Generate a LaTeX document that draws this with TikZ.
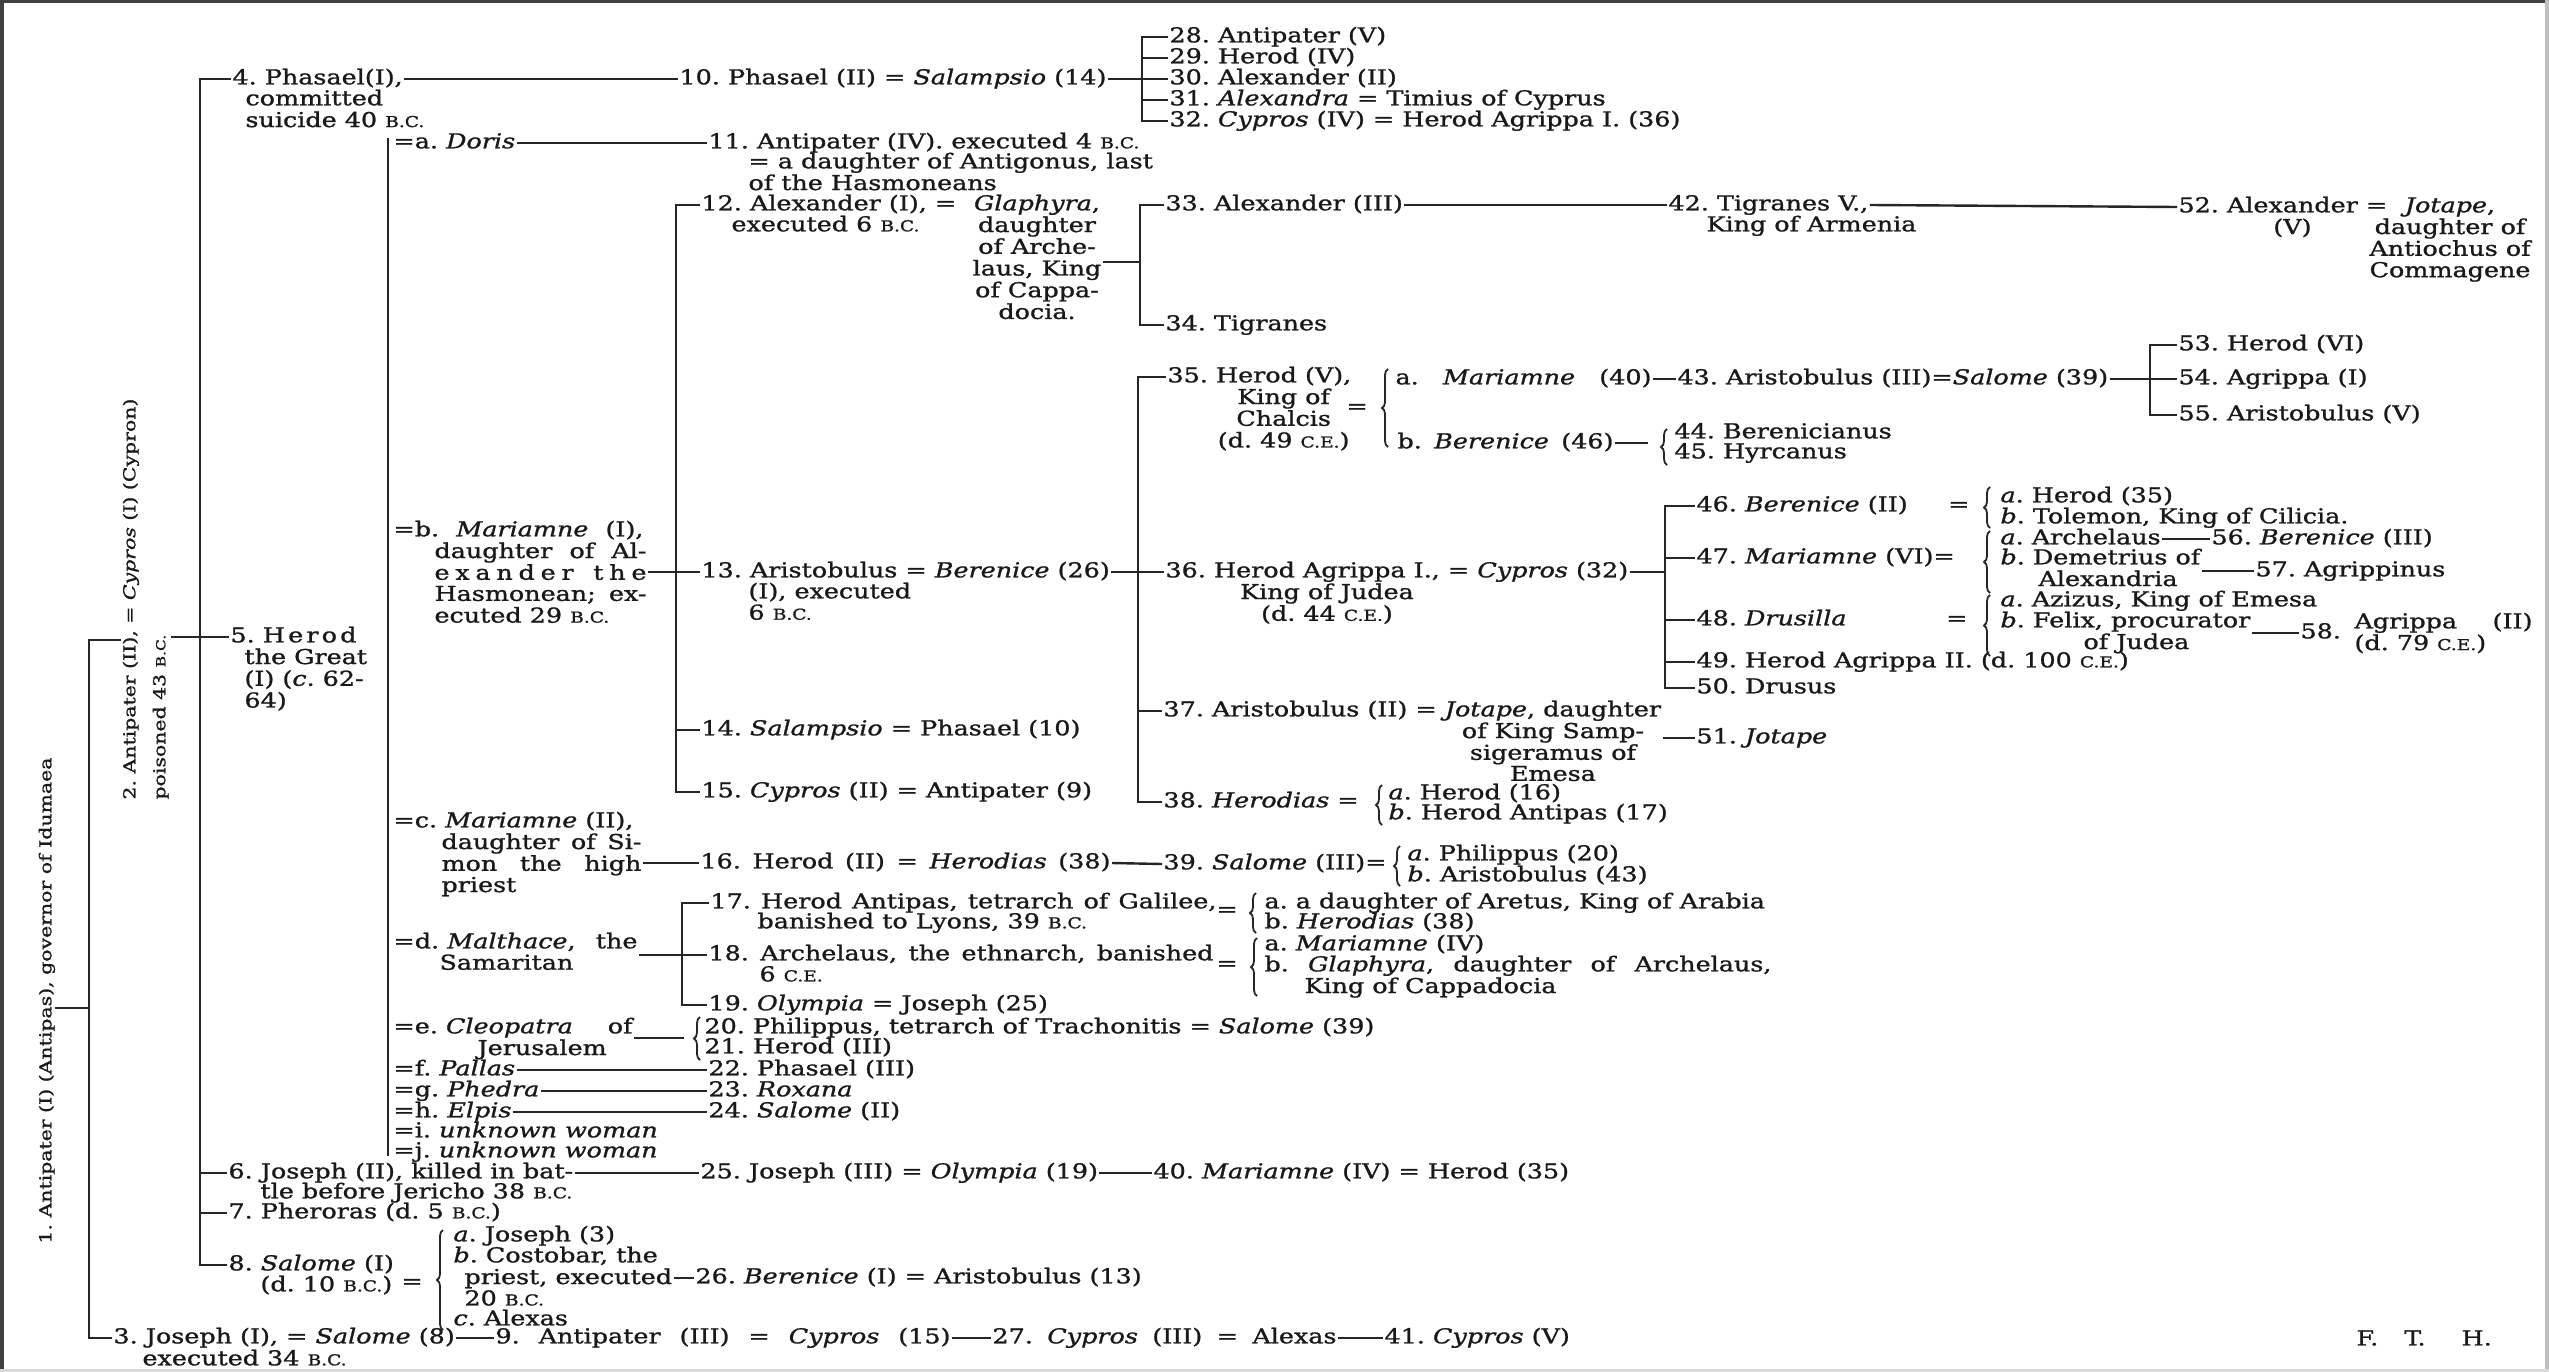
\documentclass[tikz,border=0pt]{standalone}
\usepackage{fontspec}
\setmainfont{DejaVu Serif}[FakeStretch=1.24,FakeBold=1.2]
\usetikzlibrary{decorations.pathreplacing}
\newcommand\Lb[1]{\begin{tabular}[t]{@{}l@{}}#1\end{tabular}}
\newcommand\Cb[1]{\begin{tabular}[t]{@{}c@{}}#1\end{tabular}}
\newcommand\BCx{{\fontsize{15}{20}\selectfont B.C.}}
\newcommand\CEx{{\fontsize{15}{20}\selectfont C.E.}}
\newcommand\Sx[2]{\makebox[#1pt][s]{#2}}
\begin{document}
\frenchspacing
\fontsize{20.5}{20.5}\selectfont
\begin{tikzpicture}[x=1pt,y=-1pt,
  every node/.style={inner xsep=1.5pt,inner ysep=0pt,outer sep=0pt,
    font=\fontsize{20.5}{20.5}\selectfont,text=black!90},
  t/.style={anchor=mid west},
  tc/.style={anchor=mid},
  rot/.style={rotate=90,anchor=mid west,font=\fontsize{16.5}{20}\selectfont},
  ln/.style={line width=2.4pt,black!85},
  brc/.style={line width=1.8pt,black!85,decorate,decoration={brace,amplitude=6pt}}]
\useasboundingbox (0,0) rectangle (2549,1372);
\fill[white] (0,0) rectangle (2549,1372);
\fill[black!75] (0,0) rectangle (2549,3);
\fill[black!75] (0,0) rectangle (4,1372);
\fill[black!25] (2545,0) rectangle (2549,1372);
\fill[black!15] (0,1369) rectangle (2549,1372);

% bracket coordinates
\coordinate (Atop) at (89,640);
\coordinate (Amid) at (89,1008);
\coordinate (Bbot) at (200,1265);
\coordinate (Ctop) at (388,138);
\coordinate (Cbot) at (388,1156);
\coordinate (Dbot) at (676,792);
\coordinate (Pbot) at (1142,121);
\coordinate (Em) at (1140,262);
\coordinate (E2m) at (1138,572);
\coordinate (Fm) at (2150,379);
\coordinate (Gm) at (1665,572);
\coordinate (Hm) at (682,955);
\coordinate (k44) at (1648,443);
\coordinate (k20) at (684,1038);

% rotated ancestors
\node[rot] (a1) at (46,1245) {1. Antipater (I) (Antipas), governor of Idumaea};
\node[rot] (a2) at (130,801) {\Lb{2. Antipater (II), = \textit{Cypros} (I) (Cypron)\\[10pt]poisoned 43 {\fontsize{12.5}{20}\selectfont B.C.}}};

% top rows
\node[t] (n4) at (231,79) {4. Phasael(I),};
\node[t] (n4x) at (244,100) {\Lb{committed\\suicide 40 \BCx}};
\node[t] (n10) at (678,79) {10. Phasael (II) = \textit{Salampsio} (14)};
\node[t] (n28) at (1168,37) {28. Antipater (V)};
\node[t] (n29) at (1168,58) {29. Herod (IV)};
\node[t] (n30) at (1168,79) {30. Alexander (II)};
\node[t] (n31) at (1168,100) {31. \textit{Alexandra} = Timius of Cyprus};
\node[t] (n32) at (1168,121) {32. \textit{Cypros} (IV) = Herod Agrippa I. (36)};

\node[t] (wa) at (392,143) {=a. \textit{Doris}};
\node[t] (n11) at (707,143) {11. Antipater (IV). executed 4 \BCx};
\node[t] (n11x) at (747,163) {\Lb{= a daughter of Antigonus, last\\of the Hasmoneans}};

\node[t] (n12) at (700,205) {12. Alexander (I), =};
\node[t] (n12x) at (730,226) {executed 6 \BCx};
\node[tc] (g12) at (1037,205) {\Cb{\textit{Glaphyra},\\daughter\\of Arche-\\laus, King\\of Cappa-\\docia.}};
\node[t] (n33) at (1164,205) {33. Alexander (III)};
\node[t] (n34) at (1164,325) {34. Tigranes};
\node[t] (n42) at (1667,205) {42. Tigranes V.,};
\node[t] (n42x) at (1705,226) {King of Armenia};
\node[t] (n52) at (2177,207) {52. \Cb{Alexander\\(V)} =};
\node[tc] (j52) at (2450,207) {\Cb{\textit{Jotape},\\daughter of\\Antiochus of\\Commagene}};

\node[t] (n35) at (1166,377) {35. \Cb{Herod (V),\\King of\\Chalcis\\(d. 49 \CEx)}};
\node[t] (e35) at (1345,408) {=};
\node[t] (n35a) at (1394,379) {\Sx{256}{a. \textit{Mariamne} (40)}};
\node[t] (n43) at (1676,379) {43. Aristobulus (III)=\textit{Salome} (39)};
\node[t] (n53) at (2177,345) {53. Herod (VI)};
\node[t] (n54) at (2177,379) {54. Agrippa (I)};
\node[t] (n55) at (2177,415) {55. Aristobulus (V)};
\node[t] (n35b) at (1396,443) {\Sx{216}{b. \textit{Berenice} (46)}};
\node[t] (n44) at (1673,433) {44. Berenicianus};
\node[t] (n45) at (1673,453) {45. Hyrcanus};

\node[t] (n13) at (700,572) {13. Aristobulus = \textit{Berenice} (26)};
\node[t] (n13x) at (747,593) {\Lb{(I), executed\\6 \BCx}};
\node[t] (n36) at (1164,572) {36. \Cb{Herod Agrippa I.,\\King of Judea\\(d. 44 \CEx)} = \textit{Cypros} (32)};
\node[t] (n46) at (1695,506) {\Sx{273}{46. \textit{Berenice} (II)\hfill=}};
\node[t] (n46a) at (1999,497) {\textit{a}. Herod (35)};
\node[t] (n46b) at (1999,518) {\textit{b}. Tolemon, King of Cilicia.};
\node[t] (n47) at (1695,558) {47. \textit{Mariamne} (VI)=};
\node[t] (n47a) at (1999,539) {\textit{a}. Archelaus};
\node[t] (n56) at (2210,539) {56. \textit{Berenice} (III)};
\node[t] (n47b) at (1999,559) {\Lb{\textit{b}. Demetrius of\\\hspace*{38pt}Alexandria}};
\node[t] (n57) at (2254,571) {57. Agrippinus};
\node[t] (n48) at (1695,620) {\Sx{271}{48. \textit{Drusilla}\hfill=}};
\node[t] (n48a) at (1999,601) {\textit{a}. Azizus, King of Emesa};
\node[t] (n48b) at (1999,622) {\Lb{\textit{b}. Felix, procurator\\\hspace*{83pt}of Judea}};
\node[t] (n58) at (2299,633) {58.};
\node[t] (n58x) at (2353,623) {\Lb{\Sx{178}{Agrippa (II)}\\(d. 79 \CEx)}};
\node[t] (n49) at (1695,662) {49. Herod Agrippa II. (d. 100 \CEx)};
\node[t] (n50) at (1695,688) {50. Drusus};

\node[t] (wb) at (392,531) {\Lb{\Sx{250}{=b. \textit{Mariamne} (I),}\\
  \hspace*{41pt}\Sx{212}{daughter of Al-}\\
  \hspace*{41pt}\Sx{212}{e\hfil x\hfil a\hfil n\hfil d\hfil e\hfil r\hfil\ \hfil t\hfil h\hfil e}\\
  \hspace*{41pt}\Sx{212}{Hasmonean;\hfil ex-}\\
  \hspace*{41pt}ecuted 29 \BCx}};
\node[t] (n5) at (229,637) {\Lb{\Sx{126}{5.~H\hfil e\hfil r\hfil o\hfil d}\\
  \hspace*{14pt}the Great\\\hspace*{14pt}(I) (\textit{c}. 62-\\\hspace*{14pt}64)}};
\node[t] (n14) at (700,730) {14. \textit{Salampsio} = Phasael (10)};
\node[t] (n15) at (700,792) {15. \textit{Cypros} (II) = Antipater (9)};
\node[t] (n37) at (1162,711) {37. Aristobulus (II) = \Cb{\textit{Jotape}, daughter\\of King Samp-\\sigeramus of\\Emesa}};
\node[t] (n51) at (1695,738) {51. \textit{Jotape}};
\node[t] (n38) at (1162,802) {38. \textit{Herodias} =};
\node[t] (n38a) at (1387,794) {\textit{a}. Herod (16)};
\node[t] (n38b) at (1387,814) {\textit{b}. Herod Antipas (17)};
\node[t] (wc) at (392,822) {\Lb{=c. \textit{Mariamne} (II),\\
  \hspace*{48pt}\Sx{200}{daughter of Si-}\\
  \hspace*{48pt}\Sx{200}{mon the high}\\
  \hspace*{48pt}priest}};
\node[t] (n16) at (699,863) {\Sx{410}{16. Herod (II) = \textit{Herodias} (38)}};
\node[t] (n39) at (1162,864) {39. \textit{Salome} (III)=};
\node[t] (n39a) at (1406,855) {\textit{a}. Philippus (20)};
\node[t] (n39b) at (1406,876) {\textit{b}. Aristobulus (43)};

\node[t] (n17) at (709,903) {\Sx{506}{17. Herod Antipas, tetrarch of Galilee,}};
\node[t] (n17x) at (756,923) {banished to Lyons, 39 \BCx};
\node[t] (e17) at (1215,911) {=};
\node[t] (n17a) at (1263,903) {a. a daughter of Aretus, King of Arabia};
\node[t] (n17b) at (1263,923) {b. \textit{Herodias} (38)};
\node[t] (wd) at (392,943) {\Lb{\Sx{244}{=d. \textit{Malthace},\hfill the}\\\hspace*{46pt}Samaritan}};
\node[t] (n18) at (707,955) {\Sx{505}{18. Archelaus, the ethnarch, banished}};
\node[t] (n18x) at (758,976) {6 \CEx};
\node[t] (e18) at (1215,965) {=};
\node[t] (n18a) at (1263,945) {a. \textit{Mariamne} (IV)};
\node[t] (n18b) at (1263,966) {\Lb{\Sx{507}{b. \textit{Glaphyra}, daughter of Archelaus,}\\\hspace*{40pt}King of Cappadocia}};
\node[t] (n19) at (707,1005) {19. \textit{Olympia} = Joseph (25)};
\node[t] (we) at (392,1028) {\Lb{\Sx{239}{=e. \textit{Cleopatra}\hfill of}\\\hspace*{84pt}Jerusalem}};
\node[t] (n20) at (703,1028) {20. Philippus, tetrarch of Trachonitis = \textit{Salome} (39)};
\node[t] (n21) at (703,1048) {21. Herod (III)};
\node[t] (wf) at (392,1070) {=f. \textit{Pallas}};
\node[t] (n22) at (707,1070) {22. Phasael (III)};
\node[t] (wg) at (392,1091) {=g. \textit{Phedra}};
\node[t] (n23) at (707,1091) {23. \textit{Roxana}};
\node[t] (wh) at (392,1112) {=h. \textit{Elpis}};
\node[t] (n24) at (707,1112) {24. \textit{Salome} (II)};
\node[t] (wi) at (392,1132) {=i. \textit{unknown woman}};
\node[t] (wj) at (392,1152) {=j. \textit{unknown woman}};
\node[t] (n6) at (227,1173) {6. Joseph (II), killed in bat-};
\node[t] (n6x) at (259,1193) {tle before Jericho 38 \BCx};
\node[t] (n25) at (699,1173) {25. Joseph (III) = \textit{Olympia} (19)};
\node[t] (n40) at (1152,1173) {40. \textit{Mariamne} (IV) = Herod (35)};
\node[t] (n7) at (227,1213) {7. Pheroras (d. 5 \BCx)};
\node[t] (n8) at (227,1265) {8. \textit{Salome} (I)};
\node[t] (n8x) at (259,1286) {(d. 10 \BCx)};
\node[t] (e8) at (400,1283) {=};
\node[t] (n8a) at (452,1236) {\textit{a}. Joseph (3)};
\node[t] (n8b) at (452,1257) {\Lb{\textit{b}. Costobar, the\\\hspace*{11pt}priest, executed\\\hspace*{11pt}20 \BCx}};
\node[t] (n8c) at (452,1320) {\textit{c}. Alexas};
\node[t] (n26) at (694,1278) {26. \textit{Berenice} (I) = Aristobulus (13)};
\node[t] (n3) at (112,1338) {3. Joseph (I), = \textit{Salome} (8)};
\node[t] (n3x) at (141,1360) {executed 34 \BCx};
\node[t] (n9) at (494,1338) {\Sx{455}{9. Antipater (III) = \textit{Cypros} (15)}};
\node[t] (n27) at (991,1338) {\Sx{344}{27. \textit{Cypros} (III) = Alexas}};
\node[t] (n41) at (1383,1338) {41. \textit{Cypros} (V)};
\node[t] (fth) at (2355,1340) {F.\hspace{26pt}T.\hspace{36pt}H.};

% ---- connectors ----
\draw[ln] (a2.north |- Atop) -- (Atop) -- (Atop |- n3.mid west) -- (n3.mid west);
\draw[ln] (a1.south |- Amid) -- (Amid);
\draw[ln] (n4.mid west) -| (Bbot) -- (n8.mid west);
\foreach \k in {n5,n6,n7} \draw[ln] (Bbot |- \k.mid west) -- (\k.mid west);
\draw[ln] (a2.south |- n5.mid west) -- (Bbot |- n5.mid west);
\draw[ln] (Ctop) -- (Cbot);
\draw[ln] (n4.mid east) -- (n10.mid west);
\draw[ln] (n10.mid east) -- (Pbot |- n10.mid west);
\draw[ln] (n28.mid west) -| (Pbot) -- (n32.mid west);
\foreach \k in {n29,n30,n31} \draw[ln] (Pbot |- \k.mid west) -- (\k.mid west);
\draw[ln] (wa.mid east) -- (n11.mid west);
\draw[ln] (n12.mid west) -| (Dbot) -- (n15.mid west);
\foreach \k in {n13,n14} \draw[ln] (Dbot |- \k.mid west) -- (\k.mid west);
\draw[ln] (wb.east |- n13.mid west) -- (Dbot |- n13.mid west);
\draw[ln] (g12.east |- Em) -- (Em);
\draw[ln] (n33.mid west) -| (Em) |- (n34.mid west);
\draw[ln] (n33.mid east) -- (n42.mid west);
\draw[ln] (n42.mid east) -- (n52.mid west);
\draw[ln] (n13.mid east) -- (E2m);
\draw[ln] (n35.mid west) -| (E2m) |- (n38.mid west);
\foreach \k in {n36,n37} \draw[ln] (E2m |- \k.mid west) -- (\k.mid west);
\draw[brc] (1388,447) -- (1388,369);
\draw[ln] (n35a.mid east) -- (n43.mid west);
\draw[ln] (n43.mid east) -- (Fm);
\draw[ln] (n53.mid west) -| (Fm) |- (n55.mid west);
\draw[ln] (Fm) -- (n54.mid west);
\draw[ln] (n35b.mid east) -- (k44);
\draw[brc] (1667,465) -- (1667,429);
\draw[ln] (n36.mid east) -- (Gm);
\draw[ln] (n46.mid west) -| (Gm) |- (n50.mid west);
\foreach \k in {n47,n48,n49} \draw[ln] (Gm |- \k.mid west) -- (\k.mid west);
\draw[brc] (1990,528) -- (1990,487);
\draw[brc] (1990,593) -- (1990,531);
\draw[brc] (1990,656) -- (1990,595);
\draw[ln] (n47a.mid east) -- (n56.mid west);
\draw[ln] (n47b.east |- n57.mid west) -- (n57.mid west);
\draw[ln] (n48b.east |- n58.mid west) -- (n58.mid west);
\draw[ln] (n37.east |- n51.mid west) -- (n51.mid west);
\draw[brc] (1382,825) -- (1382,785);
\draw[brc] (1400,886) -- (1400,846);
\draw[ln] (wc.east |- n16.mid west) -- (n16.mid west);
\draw[ln] (n16.mid east) -- (n39.mid west);
\draw[ln] (wd.east |- Hm) -- (Hm);
\draw[ln] (n17.mid west) -| (Hm) |- (n19.mid west);
\draw[ln] (Hm) -- (n18.mid west);
\draw[brc] (1256,933) -- (1256,893);
\draw[brc] (1257,996) -- (1257,938);
\draw[ln] (we.east |- k20) -- (k20);
\draw[brc] (700,1060) -- (700,1017);
\draw[ln] (wf.mid east) -- (n22.mid west);
\draw[ln] (wg.mid east) -- (n23.mid west);
\draw[ln] (wh.mid east) -- (n24.mid west);
\draw[ln] (n6.mid east) -- (n25.mid west);
\draw[ln] (n25.mid east) -- (n40.mid west);
\draw[brc] (443,1330) -- (443,1230);
\draw[ln] (n8b.east |- n26.mid west) -- (n26.mid west);
\draw[ln] (n3.mid east) -- (n9.mid west);
\draw[ln] (n9.mid east) -- (n27.mid west);
\draw[ln] (n27.mid east) -- (n41.mid west);
\end{tikzpicture}
\end{document}
